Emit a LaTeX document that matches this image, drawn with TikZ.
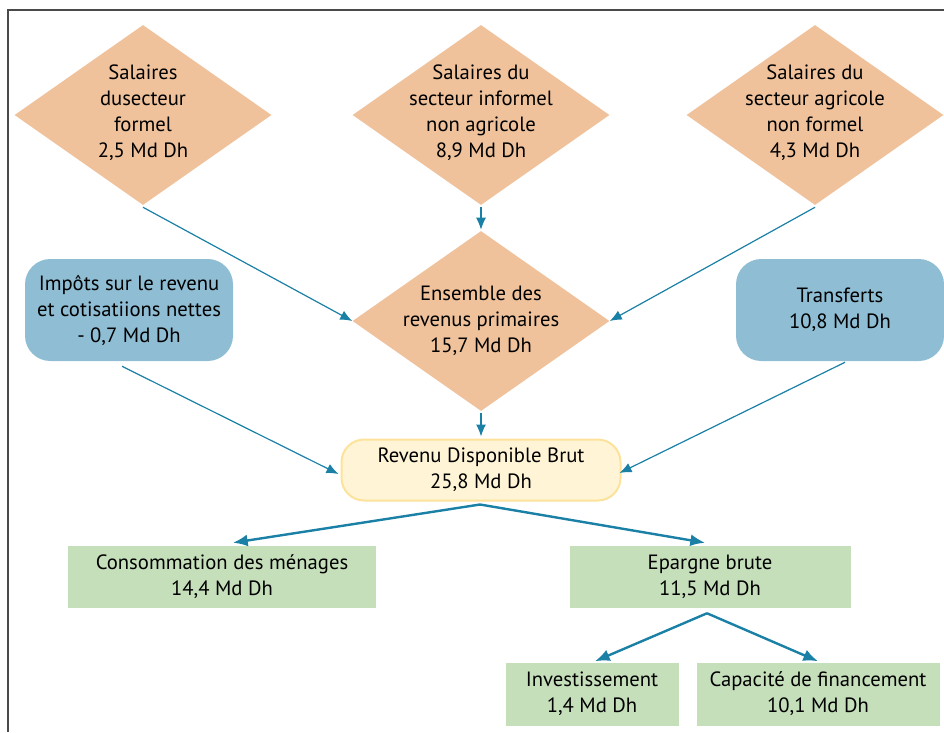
\documentclass[tikz,border=0pt]{standalone}
\usepackage{fontspec}
\setmainfont{PT Sans}
\usetikzlibrary{shapes.geometric,arrows.meta,calc}
\definecolor{peach}{HTML}{EFC29C}
\definecolor{boxblue}{HTML}{8EBDD4}
\definecolor{boxgreen}{HTML}{C6DFBB}
\definecolor{ylfill}{HTML}{FFF5D6}
\definecolor{ylborder}{HTML}{FCE29A}
\definecolor{arrowcol}{HTML}{1A80A6}
\definecolor{framecol}{HTML}{4A4A4A}
\begin{document}
\begin{tikzpicture}[x=0.75pt,y=-0.75pt,
  font=\fontsize{15.5}{19.5}\selectfont,
  dia/.style={diamond, fill=peach, draw=none, inner sep=0pt, minimum width=257*0.75pt, minimum height=180*0.75pt},
  txt/.style={align=center, inner sep=0pt},
  bluebox/.style={rectangle, rounded corners=19pt, fill=boxblue, minimum width=208*0.75pt, minimum height=102*0.75pt, align=center, inner sep=0pt},
  greenbox/.style={rectangle, fill=boxgreen, minimum height=62*0.75pt, align=center, inner sep=0pt},
  ylbox/.style={rectangle, rounded corners=17pt, fill=ylfill, draw=ylborder, line width=1.5pt, minimum width=279*0.75pt, minimum height=61*0.75pt, align=center, inner sep=0pt},
  flowthin/.style={draw=arrowcol, line width=0.9pt, -{Latex[length=9pt,width=7.5pt]}},
  flowthick/.style={draw=arrowcol, line width=1.8pt, -{Latex[length=11pt,width=9pt]}}
]
\useasboundingbox (0,0) rectangle (944,732);
\draw[framecol, line width=1.5pt] (8,732) -- (8,10) -- (944,10);

% diamonds
\node[dia] (d1) at (143,115) {};
\node[dia] (d2) at (481,115) {};
\node[dia] (d3) at (815,115) {};
\node[dia] (d4) at (481,321) {};
\node[txt] (t1) at (143,113) {Salaires\\dusecteur\\formel\\2,5 Md Dh};
\node[txt] (t2) at (481,113) {Salaires du\\secteur informel\\non agricole\\8,9 Md Dh};
\node[txt] (t3) at (815,113) {Salaires du\\secteur agricole\\non formel\\4,3 Md Dh};
\node[txt] (t4) at (481,321) {Ensemble des\\revenus primaires\\15,7 Md Dh};

% blue boxes
\node[bluebox] (imp) at (129,310) {Imp\^ots sur le revenu\\et cotisatiions nettes\\- 0,7 Md Dh};
\node[bluebox] (tr) at (840,310) {Transferts\\10,8 Md Dh};

% revenu
\node[ylbox] (rev) at (481,470) {Revenu Disponible Brut\\25,8 Md Dh};

% green boxes
\node[greenbox, minimum width=308*0.75pt] (cons) at (222,577) {Consommation des m\'enages\\14,4 Md Dh};
\node[greenbox, minimum width=281*0.75pt] (ep) at (710,577) {Epargne brute\\11,5 Md Dh};
\node[greenbox, minimum width=173*0.75pt, minimum height=63*0.75pt] (inv) at (592,694) {Investissement\\1,4 Md Dh};
\node[greenbox, minimum width=243*0.75pt, minimum height=63*0.75pt] (cap) at (818,694) {Capacit\'e de financement\\10,1 Md Dh};

% thin arrows
\draw[flowthin] ($(d1.south)+(0,2)$) -- (d4.west);
\draw[flowthin] ($(d2.south)+(0,2)$) -- ($(d4.north)+(0,-1)$);
\draw[flowthin] ($(d3.south)+(0,2)$) -- (d4.east);
\draw[flowthin] ($(d4.south)+(0,2)$) -- ($(rev.north)+(0,-2)$);
\draw[flowthin] ($(imp.south)+(-7,5)$) -- ($(rev.west)+(-2,4)$);
\draw[flowthin] ($(tr.south)+(5,1)$) -- ($(rev.east)+(-2,3)$);

% thick arrows
\coordinate (rs) at ($(rev.south)+(-1,3)$);
\draw[flowthick] (rs) -- ($(cons.north)+(11,-3)$);
\draw[flowthick] (rs) -- ($(ep.north)+(-5,-3)$);
\coordinate (es) at ($(ep.south)+(-3,5)$);
\draw[flowthick] (es) -- ($(inv.north)+(3,-1)$);
\draw[flowthick] (es) -- ($(cap.north)+(0,-1)$);
\end{tikzpicture}
\end{document}
